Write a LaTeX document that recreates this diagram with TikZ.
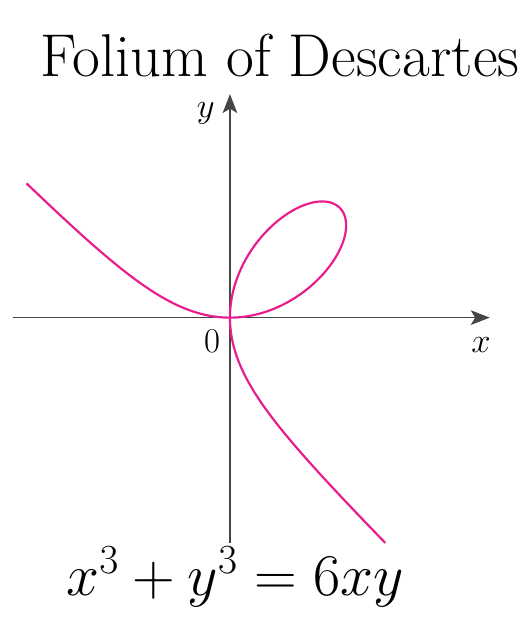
\RequirePackage{fix-cm}
\documentclass[tikz,border=0pt]{standalone}
\usepackage{tikz}
\usetikzlibrary{arrows.meta,positioning,calc}
\definecolor{curvepink}{RGB}{232,30,140}
\definecolor{axisgray}{RGB}{70,70,70}

\begin{document}
\begin{tikzpicture}[
  axis/.style={-{Stealth[length=5.2mm, width=4mm, inset=1.2mm]}, line width=1.1pt, axisgray},
  curve/.style={line width=1.7pt, curvepink, smooth},
  note/.style={font=\fontsize{27}{32}\selectfont, inner sep=1pt},
  hand/.style={anchor=base, inner sep=1pt}
]
\useasboundingbox (-6.284,-8.645) rectangle (8.197,8.680);

\draw[axis] (-5.94,0) -- (7.10,0) coordinate (xend);
\draw[axis] (0,-6.16) -- (0,6.11) coordinate (yend);

\node[note] (ylab) at (-0.66,5.58) {$y$};
\node[note] (xlab) at (6.86,-0.75) {$x$};
\node[note] (orig) at (-0.49,-0.64) {$0$};

\draw[curve] plot[domain=-0.66:0, samples=80] ({6*(\x)/(1+(\x)^3)}, {6*(\x)^2/(1+(\x)^3)});
\draw[curve] plot[domain=0:1, samples=80] ({6*(\x)/(1+(\x)^3)}, {6*(\x)^2/(1+(\x)^3)});
\draw[curve] plot[domain=1:0, samples=80] ({6*(\x)^2/(1+(\x)^3)}, {6*(\x)/(1+(\x)^3)});
\draw[curve] plot[domain=0:-0.69, samples=80] ({6*(\x)^2/(1+(\x)^3)}, {6*(\x)/(1+(\x)^3)});

\node[hand, font=\fontsize{47}{54}\selectfont] (title) at (1.37,6.60) {Folium of Descartes};
\node[hand, font=\fontsize{46}{52}\selectfont] (eqn) at (0.14,-7.58) {$x^3+y^3=6xy$};

\end{tikzpicture}
\end{document}
